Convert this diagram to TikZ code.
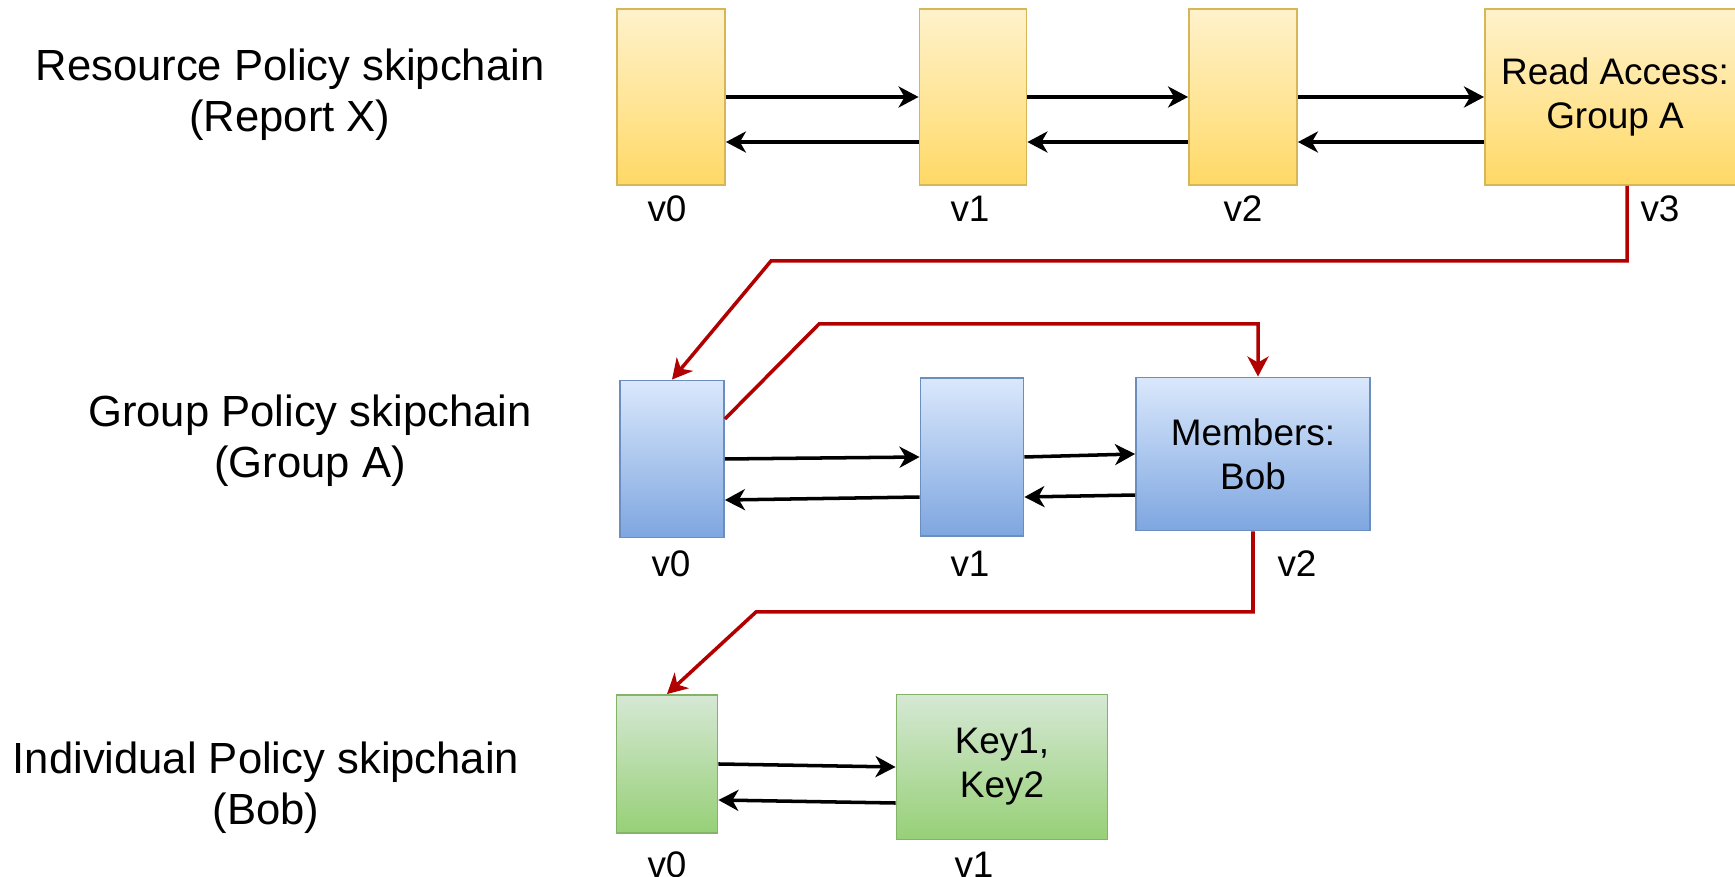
\documentclass[tikz,border=0pt]{standalone}
\usepackage{fontspec}
\setsansfont{Liberation Sans}
\usepackage{xcolor}
\usepackage{tikz}
\usetikzlibrary{arrows.meta,calc}
\definecolor{ylwtop}{HTML}{FFF2CC}
\definecolor{ylwbot}{HTML}{FFD966}
\definecolor{ylwline}{HTML}{D6B656}
\definecolor{blutop}{HTML}{DAE8FC}
\definecolor{blubot}{HTML}{7EA6E0}
\definecolor{bluline}{HTML}{6C8EBF}
\definecolor{grntop}{HTML}{D5E8D4}
\definecolor{grnbot}{HTML}{97D077}
\definecolor{grnline}{HTML}{82B366}
\definecolor{lnkred}{HTML}{B20000}

\begin{document}
\begin{tikzpicture}[
  x=0.01cm, y=-0.01cm,
  font=\sffamily,
  blk/.style={draw, rectangle, line width=0.5pt, align=center, inner sep=0pt, font=\sffamily\fontsize{10.5}{12.5}\selectfont},
  ylw/.style={blk, draw=ylwline, top color=ylwtop, bottom color=ylwbot},
  blu/.style={blk, draw=bluline, top color=blutop, bottom color=blubot},
  grn/.style={blk, draw=grnline, top color=grntop, bottom color=grnbot},
  ver/.style={inner sep=0pt, font=\sffamily\fontsize{10.5}{12.5}\selectfont},
  chain/.style={align=center, inner sep=0pt, font=\sffamily\fontsize{12.4}{14.5}\selectfont},
  >={Stealth[length=2mm, width=2.1mm, inset=0.6mm]},
  arrline/.style={->, line width=1pt},
  redline/.style={->, line width=1pt, draw=lnkred},
]
\useasboundingbox (0,0) rectangle (1735,877);

\node[chain] (resLbl) at (290,95) {Resource Policy skipchain\\(Report X)};
\node[chain] (grpLbl) at (310,441) {Group Policy skipchain\\(Group A)};
\node[chain] (indLbl) at (266,788) {Individual Policy skipchain\\(Bob)};

\node[ylw, minimum width=1.08cm, minimum height=1.76cm] (r0) at (671,97) {};
\node[ylw, minimum width=1.07cm, minimum height=1.76cm] (r1) at (973,97) {};
\node[ylw, minimum width=1.08cm, minimum height=1.76cm] (r2) at (1243,97) {};
\node[ylw, minimum width=2.60cm, minimum height=1.76cm] (r3) at (1615,97) {Read Access:\\Group A};
\node[ver] (r0v) at (667,209) {v0};
\node[ver] (r1v) at (970,209) {v1};
\node[ver] (r2v) at (1243,209) {v2};
\node[ver] (r3v) at (1660,209) {v3};

\node[blu, minimum width=1.04cm, minimum height=1.57cm] (g0) at (672,459) {};
\node[blu, minimum width=1.03cm, minimum height=1.58cm] (g1) at (972,457) {};
\node[blu, minimum width=2.34cm, minimum height=1.53cm] (g2) at (1253,454) {Members:\\Bob};
\node[ver] (g0v) at (671,564) {v0};
\node[ver] (g1v) at (970,564) {v1};
\node[ver] (g2v) at (1297,564) {v2};

\node[grn, minimum width=1.01cm, minimum height=1.38cm] (b0) at (667,764) {};
\node[grn, minimum width=2.11cm, minimum height=1.45cm] (b1) at (1002,767) {Key1,\\Key2};
\node[ver] (b0v) at (667,865) {v0};
\node[ver] (b1v) at (974,865) {v1};

\coordinate (k1) at (771,261);
\coordinate (k2) at (819,324);
\coordinate (k3) at (756,612);

\draw[arrline] (r0.east) -- (r1.west);
\draw[arrline] ([yshift=-0.45cm]r1.west) -- ([yshift=-0.45cm]r0.east);
\draw[arrline] (r1.east) -- (r2.west);
\draw[arrline] ([yshift=-0.45cm]r2.west) -- ([yshift=-0.45cm]r1.east);
\draw[arrline] (r2.east) -- (r3.west);
\draw[arrline] ([yshift=-0.45cm]r3.west) -- ([yshift=-0.45cm]r2.east);

\draw[arrline] (g0.east) -- (g1.west);
\draw[arrline] ([yshift=-0.40cm]g1.west) -- ([yshift=-0.41cm]g0.east);
\draw[arrline] (g1.east) -- (g2.west);
\draw[arrline] ([yshift=-0.41cm]g2.west) -- ([yshift=-0.40cm]g1.east);

\draw[arrline] (b0.east) -- (b1.west);
\draw[arrline] ([yshift=-0.36cm]b1.west) -- ([yshift=-0.36cm]b0.east);

\draw[redline] ([xshift=0.12cm]r3.south) |- (k1) -- (g0.north);
\draw[redline] ([yshift=0.40cm]g0.east) -- (k2) -| ([xshift=0.05cm]g2.north);
\draw[redline] (g2.south) |- (k3) -- (b0.north);
\end{tikzpicture}
\end{document}
